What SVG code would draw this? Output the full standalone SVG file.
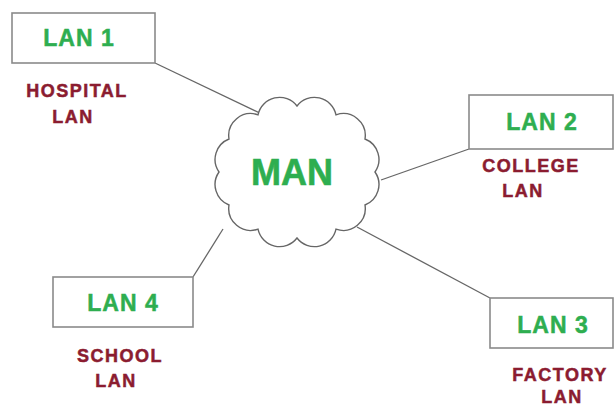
<svg xmlns="http://www.w3.org/2000/svg" width="615" height="408" viewBox="0 0 615 408">
<style>
.box{fill:#fff;stroke:#8a8a8a;stroke-width:1.6}
.lan{font-family:"Liberation Sans",Arial,sans-serif;font-weight:bold;font-size:23px;fill:#2eae50;stroke:#2eae50;stroke-width:0.5;text-anchor:middle;letter-spacing:1px}
.lbl{font-family:"Liberation Sans",Arial,sans-serif;font-weight:bold;font-size:18px;fill:#8b1c30;stroke:#8b1c30;stroke-width:0.5;text-anchor:middle;letter-spacing:1.5px}
.man{font-family:"Liberation Sans",Arial,sans-serif;font-weight:bold;font-size:36px;fill:#2eae50;stroke:#2eae50;stroke-width:0.6;text-anchor:middle}
.con{stroke:#666;stroke-width:1.3;fill:none}
.cloud{fill:#fff;stroke:#666;stroke-width:1.4}
</style>
<rect width="615" height="408" fill="#fff"/>
<g id="connectors">
<line class="con" x1="155" y1="63" x2="266" y2="116"/>
<line class="con" x1="381" y1="180" x2="469" y2="149"/>
<line class="con" x1="193" y1="277" x2="223" y2="229"/>
<line class="con" x1="357" y1="227" x2="490" y2="298"/>
</g>
<g id="man">
<path class="cloud" d="M297,106 A22,22 0 0 1 336,114.8 A22,22 0 0 1 365,139 A22,22 0 0 1 375,172 A22,22 0 0 1 365,205 A22,22 0 0 1 336,229.2 A22,22 0 0 1 297,238 A22,22 0 0 1 258,229.2 A22,22 0 0 1 229,205 A22,22 0 0 1 219,172 A22,22 0 0 1 229,139 A22,22 0 0 1 258,114.8 A22,22 0 0 1 297,106 Z"/>
<text class="man" x="292" y="185">MAN</text>
</g>
<g id="lan1">
<rect class="box" x="12" y="13" width="143" height="50"/>
<text class="lan" x="79" y="46">LAN 1</text>
<text class="lbl" x="77" y="97">HOSPITAL</text>
<text class="lbl" x="73" y="123">LAN</text>
</g>
<g id="lan2">
<rect class="box" x="469" y="95" width="144" height="54"/>
<text class="lan" x="542" y="130">LAN 2</text>
<text class="lbl" x="531" y="172">COLLEGE</text>
<text class="lbl" x="523" y="197">LAN</text>
</g>
<g id="lan3">
<rect class="box" x="490" y="298" width="123" height="50"/>
<text class="lan" x="553" y="333">LAN 3</text>
<text class="lbl" x="560" y="381">FACTORY</text>
<text class="lbl" x="562" y="403">LAN</text>
</g>
<g id="lan4">
<rect class="box" x="53" y="277" width="140" height="50"/>
<text class="lan" x="123" y="311">LAN 4</text>
<text class="lbl" x="120" y="362">SCHOOL</text>
<text class="lbl" x="116" y="387">LAN</text>
</g>
</svg>
